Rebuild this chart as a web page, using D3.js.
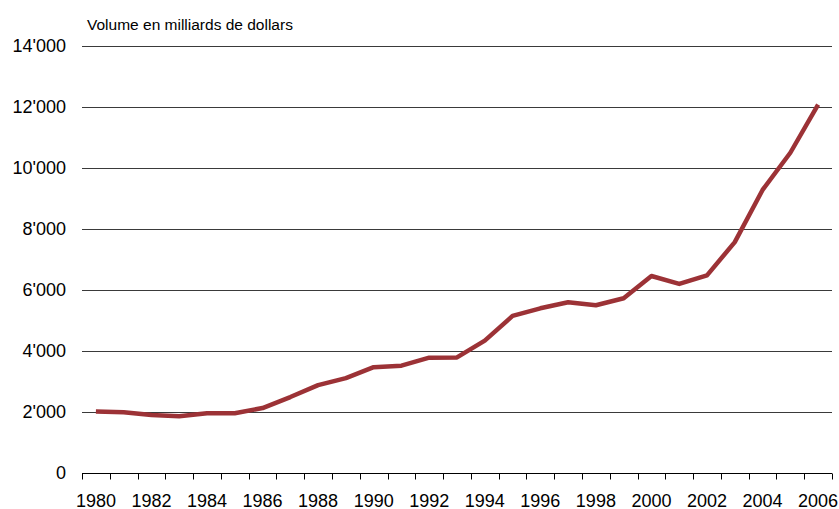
<!DOCTYPE html>
<html>
<head>
<meta charset="utf-8">
<script src="https://cdn.jsdelivr.net/npm/d3@7"></script>
<style>
  body { margin: 0; background: #fff; }
  svg text { font-family: "Liberation Sans", Arial, sans-serif; fill: #000; }
</style>
</head>
<body>
<svg width="839" height="509"></svg>
<script>
// values (billions of dollars)
const years = [1980, 1981, 1982, 1983, 1984, 1985, 1986, 1987, 1988, 1989,
               1990, 1991, 1992, 1993, 1994, 1995, 1996, 1997, 1998, 1999,
               2000, 2001, 2002, 2003, 2004, 2005, 2006]
const volume = [2020, 1990, 1900, 1860, 1960, 1960, 2130, 2490, 2880, 3110,
                3470, 3520, 3780, 3790, 4340, 5150, 5400, 5600, 5500, 5730,
                6460, 6200, 6480, 7570, 9280, 10500, 12080]
const yTicks = [0, 2000, 4000, 6000, 8000, 10000, 12000, 14000]
const title = "Volume en milliards de dollars"

const margin = { top: 46, right: 7, bottom: 36, left: 82 }
const width = 839 - margin.left - margin.right
const height = 509 - margin.top - margin.bottom

const svg = d3.select("svg")
    .append("g")
    .attr("transform", `translate(${margin.left}, ${margin.top})`)

const xscl = d3.scaleBand()
    .domain(years)
    .range([0, width])

const yscl = d3.scaleLinear()
    .domain([0, 14000])
    .range([height, 0])

// gridlines
svg.selectAll(".grid")
    .data(yTicks.filter(d => d > 0))
    .enter().append("line")
    .attr("class", "grid")
    .attr("x1", 0)
    .attr("x2", width)
    .attr("y1", d => Math.round(yscl(d)) + 0.5)
    .attr("y2", d => Math.round(yscl(d)) + 0.5)
    .attr("stroke", "#3a3a3a")
    .attr("stroke-width", 1)

// y labels
svg.selectAll(".ylab")
    .data(yTicks)
    .enter().append("text")
    .attr("class", "ylab")
    .attr("x", -16)
    .attr("y", d => yscl(d))
    .attr("dy", "0.36em")
    .attr("text-anchor", "end")
    .style("font-size", "18px")
    .text(d => d === 0 ? "0" : d3.format(",")(d).replace(",", "'"))

// x axis with ticks on band boundaries
const xAxis = svg.append("g")
    .attr("transform", `translate(0, ${Math.round(height) + 0.5})`)

xAxis.append("line")
    .attr("x1", 0)
    .attr("x2", width)
    .attr("stroke", "#000")

xAxis.selectAll(".tick")
    .data(years.concat([2007]))
    .enter().append("line")
    .attr("class", "tick")
    .attr("x1", d => Math.round(d === 2007 ? width : xscl(d)) + 0.5)
    .attr("x2", d => Math.round(d === 2007 ? width : xscl(d)) + 0.5)
    .attr("y1", 0)
    .attr("y2", 6)
    .attr("stroke", "#000")

xAxis.selectAll(".xlab")
    .data(years.filter(d => d % 2 === 0))
    .enter().append("text")
    .attr("class", "xlab")
    .attr("x", d => xscl(d) + xscl.bandwidth() / 2)
    .attr("y", 33)
    .attr("text-anchor", "middle")
    .style("font-size", "18px")
    .text(d => d)

// line
const line = d3.line()
    .x((d, i) => xscl(years[i]) + xscl.bandwidth() / 2)
    .y(d => yscl(d))

svg.append("path")
    .datum(volume)
    .attr("fill", "none")
    .attr("stroke", "#9c3236")
    .attr("stroke-width", 4.5)
    .attr("stroke-linejoin", "round")
    .attr("d", line)

d3.select("svg").append("text")
    .attr("x", 87)
    .attr("y", 30)
    .style("font-size", "15.5px")
    .text(title)
</script>
</body>
</html>
